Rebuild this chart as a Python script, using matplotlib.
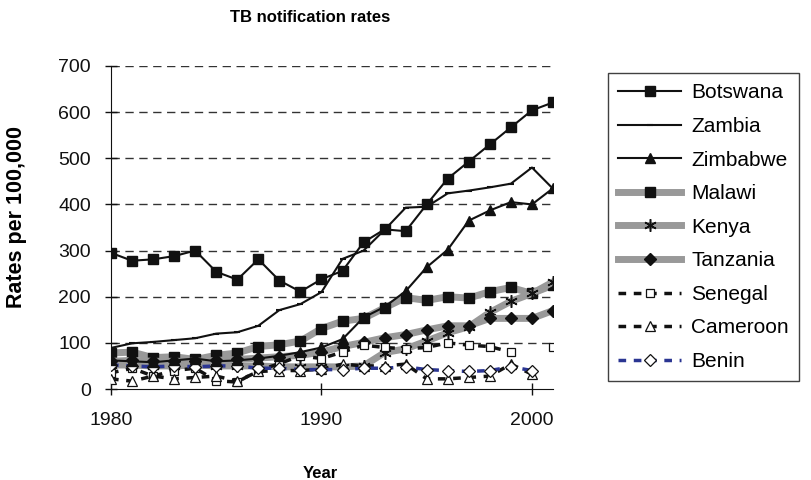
import numpy as np
import matplotlib
matplotlib.use("Agg")
import matplotlib.pyplot as plt

plt.rcParams['font.family'] = ['Liberation Sans', 'DejaVu Sans']

years = list(range(1980, 2002))
nan = np.nan

# TB notification rates per 100,000
botswana = [295, 278, 281, 288, 300, 254, 237, 281, 235, 211, 238, 256,
            318, 346, 342, 400, 456, 493, 530, 567, 604, 621]
zambia = [89, 99, 102, 106, 110, 120, 123, 137, 171, 184, 210, 282,
          300, 345, 393, 395, 424, 430, 437, 445, 480, 434]
zimbabwe = [62, 60, 58, 62, 66, 60, 62, 66, 72, 80, 90, 108,
            155, 178, 212, 264, 302, 365, 387, 405, 400, 435]
malawi = [78, 80, 68, 70, 64, 73, 78, 92, 96, 104, 131, 147,
          153, 176, 198, 192, 200, 197, 211, 220, 207, 225]
kenya = [52, 52, 50, 50, 52, 50, 50, 50, 48, 48, 48, 48,
         50, 79, 87, 104, 122, 135, 166, 190, 207, 232]
tanzania = [60, 62, 60, 60, 60, 62, 64, 67, 70, 73, 80, 92,
            101, 111, 118, 128, 137, 137, 153, 153, 153, 170]
senegal = [35, 45, 28, 40, 45, 18, 15, 40, 55, 72, 66, 80,
           95, 90, 87, 90, 100, 95, 92, 80, nan, 90]
cameroon = [22, 17, 28, 22, 25, 28, 17, 38, 40, 40, 43, 54,
            50, 50, 54, 22, 22, 25, 28, 54, 32, nan]
benin = [52, 50, 48, 50, 48, 50, 50, 45, 45, 42, 42, 42,
         45, 45, 48, 42, 40, 38, 40, 48, 40, nan]

grey = '#999999'
navy = '#2a3592'
ink = '#111111'

fig = plt.figure(figsize=(8.12, 4.8), dpi=100)
ax = fig.add_axes([111 / 812, 91 / 480, 442 / 812, 323 / 480])

# grid
for v in range(100, 701, 100):
    ax.axhline(v, color='#333333', lw=1.0, ls=(0, (6, 4)), zorder=0)

ax.plot(years, botswana, color=ink, lw=1.5, marker='s', ms=7,
        mfc=ink, mec=ink, label='Botswana', zorder=5)
ax.plot(years, zambia, color=ink, lw=1.5, marker='_', ms=5,
        mew=1.5, label='Zambia', zorder=5)
ax.plot(years, zimbabwe, color=ink, lw=1.5, marker='^', ms=7,
        mfc=ink, mec=ink, label='Zimbabwe', zorder=5)
ax.plot(years, malawi, color=grey, lw=5, marker='s', ms=7,
        mfc=ink, mec=ink, label='Malawi', zorder=3)
ax.plot(years, kenya, color=grey, lw=5, marker=(6, 2, 0), ms=9, mew=1.1,
        mec=ink, label='Kenya', zorder=3)
ax.plot(years, tanzania, color=grey, lw=5, marker='D', ms=6,
        mfc=ink, mec=ink, label='Tanzania', zorder=3)
ax.plot(years, senegal, color=ink, lw=2.5, ls=(0, (2.2, 2.2)),
        marker='s', ms=6, mfc='white', mec=ink, mew=0.9,
        label='Senegal', zorder=4)
ax.plot(years, cameroon, color=ink, lw=2.5, ls=(0, (2.2, 2.2)),
        marker='^', ms=7, mfc='white', mec=ink, mew=0.9,
        label='Cameroon', zorder=4)
ax.plot(years, benin, color=navy, lw=2.5, ls=(0, (2.2, 2.2)),
        marker='D', ms=6, mfc='white', mec=ink, mew=0.9,
        label='Benin', zorder=4)

ax.set_xlim(1980, 2001)
ax.set_ylim(0, 700)
ax.set_xticks([1980, 1990, 2000])
ax.set_yticks(range(0, 701, 100))
ax.tick_params(axis='both', direction='inout', length=9, width=1,
               labelsize=14, colors=ink)
ax.tick_params(axis='y', pad=10)
ax.tick_params(axis='x', pad=12)
ax.spines['top'].set_visible(False)
ax.spines['right'].set_visible(False)
ax.spines['left'].set_color(ink)
ax.spines['bottom'].set_color(ink)

fig.text(17 / 812, 1 - 217 / 480, 'Rates per 100,000', rotation=90,
         ha='center', va='center', fontsize=15.5, fontweight='bold')
fig.text(320 / 812, 1 - 473 / 480, 'Year', ha='center', va='center',
         fontsize=12, fontweight='bold')
fig.text(310 / 812, 1 - 18 / 480, 'TB notification rates', ha='center',
         va='center', fontsize=12, fontweight='bold')

leg = fig.legend(loc='upper left', bbox_to_anchor=(608 / 812, 1 - 73 / 480),
                 frameon=True, fancybox=False, edgecolor=ink,
                 fontsize=15, handlelength=3.0, labelspacing=0.7,
                 borderpad=0.5, handletextpad=0.5, borderaxespad=0)
leg.get_frame().set_linewidth(1.0)

fig.savefig('out.png', dpi=100)
